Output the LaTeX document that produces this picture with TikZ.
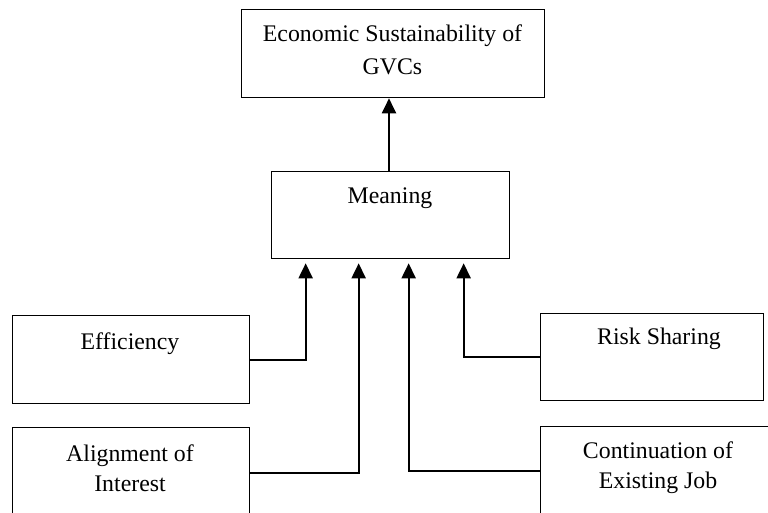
\documentclass[tikz,border=0pt]{standalone}
\usepackage{fontspec}
\setmainfont{Liberation Serif}
\usetikzlibrary{arrows.meta}
\begin{document}
\begin{tikzpicture}[x=1pt,y=-1pt,
  box/.style={draw=black,line width=1.3pt,rectangle,inner sep=0pt,anchor=north west},
  lbl/.style={anchor=base,inner sep=0pt,font=\fontsize{23.8}{30}\selectfont},
  arr/.style={draw=black,line width=2pt,-{Triangle[width=14pt,length=15pt]}}]
\clip (0,0) rectangle (768,513);
\fill[white] (0,0) rectangle (768,513);
% boxes
\node[box,minimum width=303pt,minimum height=88pt] (top) at (241,9) {};
\node[box,minimum width=238pt,minimum height=87pt] (mean) at (271,171) {};
\node[box,minimum width=237pt,minimum height=88pt] (eff) at (12,315) {};
\node[box,minimum width=237pt,minimum height=90pt] (ali) at (12,427) {};
\node[box,minimum width=223pt,minimum height=87pt] (risk) at (540,313) {};
\node[box,minimum width=240pt,minimum height=88pt] (cont) at (540,426) {};
% texts
\node[lbl,font=\fontsize{23.8}{33}\selectfont] (topT) at (392.5,42) {\begin{tabular}[t]{@{}c@{}}Economic Sustainability of\\GVCs\end{tabular}};
\node[lbl] (meanT) at (390,204) {Meaning};
\node[lbl] (effT) at (130,349) {Efficiency};
\node[lbl] (aliT) at (130,461) {\begin{tabular}[t]{@{}c@{}}Alignment of\\Interest\end{tabular}};
\node[lbl] (riskT) at (659,344) {Risk Sharing};
\node[lbl] (contT) at (658,458) {\begin{tabular}[t]{@{}c@{}}Continuation of\\Existing Job\end{tabular}};
% connectors
\draw[arr] (mean.north -| 389,0) -- (top.south -| 389,0);
\draw[arr,shorten >=4pt] (eff.east) -| ([xshift=-85pt]mean.south);
\draw[arr,shorten >=4pt] (ali.east) -| ([xshift=-32pt]mean.south);
\draw[arr,shorten >=4pt] (cont.west) -| ([xshift=18pt]mean.south);
\draw[arr,shorten >=4pt] (risk.west) -| ([xshift=73pt]mean.south);
\end{tikzpicture}
\end{document}
